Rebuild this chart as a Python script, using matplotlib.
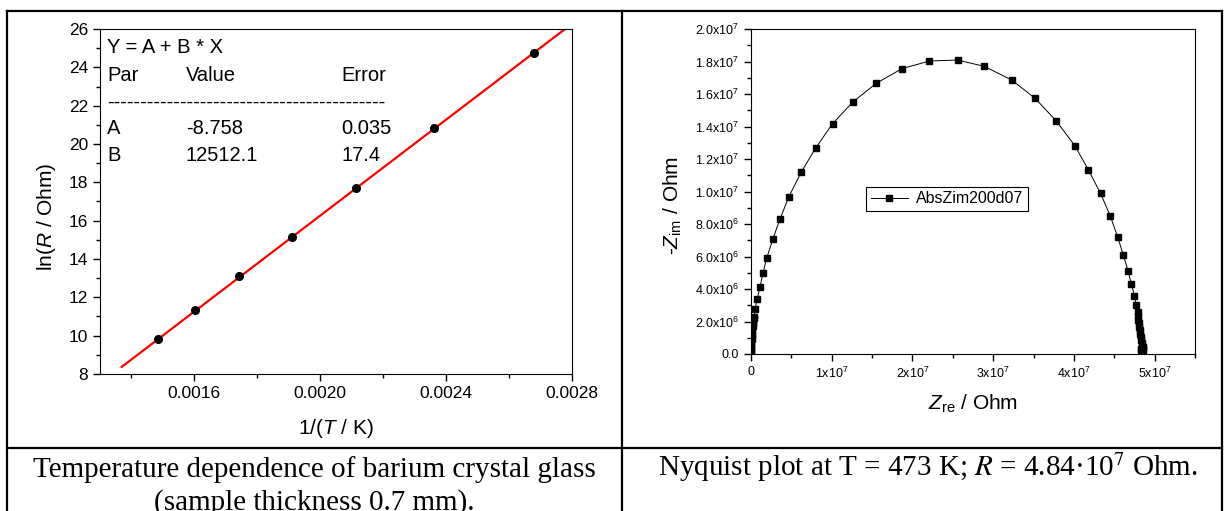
import matplotlib.pyplot as plt
from matplotlib.lines import Line2D
from matplotlib.ticker import MultipleLocator

plt.rcParams['font.family'] = ['Liberation Sans', 'DejaVu Sans']
plt.rcParams['mathtext.fontset'] = 'custom'
plt.rcParams['mathtext.rm'] = 'Liberation Sans'
plt.rcParams['mathtext.it'] = 'Liberation Sans:italic'

# left panel: ln(R) vs 1/T
inv_T = [0.001485, 0.001603, 0.001743, 0.001910, 0.002112, 0.002363, 0.002680]
ln_R = [9.82, 11.33, 13.10, 15.15, 17.69, 20.81, 24.75]
fit_A = -8.758
fit_B = 12512.1
fit_x = [0.001369, 0.002778]
fit_rows = [("A", "-8.758", "0.035"), ("B", "12512.1", "17.4")]

# right panel: Nyquist plot (Ohm)
z_re = [0.001e7, 0.002e7, 0.003e7, 0.004e7, 0.006e7, 0.008e7, 0.010e7, 0.013e7,
        0.016e7, 0.020e7, 0.025e7, 0.030e7, 0.035e7,
        0.040e7, 0.050e7, 0.077e7, 0.110e7, 0.148e7, 0.196e7, 0.270e7, 0.360e7,
        0.470e7, 0.620e7, 0.800e7, 1.010e7, 1.260e7, 1.550e7, 1.870e7, 2.210e7,
        2.560e7, 2.890e7, 3.230e7, 3.520e7, 3.780e7, 4.010e7, 4.180e7, 4.330e7,
        4.450e7, 4.540e7, 4.610e7, 4.670e7, 4.710e7, 4.750e7, 4.770e7,
        4.790e7, 4.795e7, 4.800e7, 4.806e7, 4.812e7, 4.818e7, 4.824e7, 4.830e7,
        4.836e7, 4.842e7, 4.848e7, 4.855e7, 4.860e7, 4.855e7, 4.845e7, 4.832e7,
        4.825e7]
z_im = [0.05e6, 0.20e6, 0.35e6, 0.50e6, 0.70e6, 0.90e6, 1.10e6, 1.30e6,
        1.50e6, 1.70e6, 1.90e6, 2.05e6, 2.20e6,
        2.30e6, 2.77e6, 3.39e6, 4.10e6, 4.97e6, 5.93e6, 7.06e6, 8.32e6,
        9.69e6, 11.17e6, 12.67e6, 14.17e6, 15.50e6, 16.65e6, 17.56e6, 18.03e6,
        18.09e6, 17.70e6, 16.86e6, 15.73e6, 14.35e6, 12.83e6, 11.33e6, 9.88e6,
        8.50e6, 7.23e6, 6.12e6, 5.13e6, 4.33e6, 3.59e6, 3.04e6,
        2.58e6, 2.35e6, 2.12e6, 1.90e6, 1.68e6, 1.46e6, 1.25e6, 1.05e6,
        0.86e6, 0.70e6, 0.56e6, 0.44e6, 0.34e6, 0.24e6, 0.18e6, 0.22e6,
        0.32e6]
y_ticks = [0, 2e6, 4e6, 6e6, 8e6, 1e7, 1.2e7, 1.4e7, 1.6e7, 1.8e7, 2e7]
y_tick_labels = ['0.0', '2.0x10$^6$', '4.0x10$^6$', '6.0x10$^6$', '8.0x10$^6$',
                 '1.0x10$^7$', '1.2x10$^7$', '1.4x10$^7$', '1.6x10$^7$',
                 '1.8x10$^7$', '2.0x10$^7$']
x_ticks = [0, 1e7, 2e7, 3e7, 4e7, 5e7]
x_tick_labels = ['0', '1x10$^7$', '2x10$^7$', '3x10$^7$', '4x10$^7$', '5x10$^7$']

W, H = 1225, 511
fig = plt.figure(figsize=(W / 100, H / 100), dpi=100)


def frac(x0, y0, x1, y1):
    # pixel box -> figure fraction [left, bottom, width, height]
    return [x0 / W, 1 - y1 / H, (x1 - x0) / W, (y1 - y0) / H]


# ---- left plot
ax1 = fig.add_axes(frac(100, 29, 572, 374))
ax1.plot(fit_x, [fit_A + fit_B * x for x in fit_x], color='red', lw=1.6, zorder=2)
ax1.plot(inv_T, ln_R, 'o', color='black', ms=5.5, zorder=3)
ax1.set_xlim(0.0013, 0.0028)
ax1.set_ylim(8, 26)
ax1.xaxis.set_minor_locator(MultipleLocator(0.0002))
ax1.yaxis.set_major_locator(MultipleLocator(2))
ax1.yaxis.set_minor_locator(MultipleLocator(1))
ax1.set_xticks([0.0016, 0.0020, 0.0024, 0.0028])
ax1.set_xticklabels(['0.0016', '0.0020', '0.0024', '0.0028'])
ax1.tick_params(which='major', direction='out', length=5, width=1, labelsize=12.5)
ax1.tick_params(which='minor', direction='out', length=3, width=1)
ax1.set_xlabel('1/($T$ / K)', fontsize=15)
ax1.set_ylabel('ln($R$ / Ohm)', fontsize=15)
ax1.xaxis.set_label_coords(0.5, -0.125)
ax1.yaxis.set_label_coords(-0.09, 0.455)

tkw = dict(transform=ax1.transAxes, fontsize=14.5, va='center')
ax1.text(0.015, 0.945, 'Y = A + B * X', **tkw)
ax1.text(0.015, 0.864, 'Par', **tkw)
ax1.text(0.182, 0.864, 'Value', **tkw)
ax1.text(0.511, 0.864, 'Error', **tkw)
ax1.text(0.015, 0.787, '-' * 42, **tkw)
for i, (p, v, e) in enumerate(fit_rows):
    yy = 0.712 - i * 0.078
    ax1.text(0.015, yy, p, **tkw)
    ax1.text(0.182, yy, v, **tkw)
    ax1.text(0.511, yy, e, **tkw)

# ---- right plot
ax2 = fig.add_axes(frac(751, 29, 1195, 354))
ax2.plot(z_re, z_im, '-', color='black', lw=0.7, marker='s', ms=4.3,
         mfc='black', mec='black', label='AbsZim200d07')
ax2.set_xlim(0, 5.5e7)
ax2.set_ylim(0, 2e7)
ax2.set_xticks(x_ticks)
ax2.set_xticklabels(x_tick_labels)
ax2.set_yticks(y_ticks)
ax2.set_yticklabels(y_tick_labels)
ax2.xaxis.set_minor_locator(MultipleLocator(0.5e7))
ax2.yaxis.set_minor_locator(MultipleLocator(1e6))
ax2.tick_params(which='major', direction='out', length=5, width=1, labelsize=9)
ax2.tick_params(which='minor', direction='out', length=3, width=1)
ax2.set_xlabel('$Z_{\\rm re}$ / Ohm', fontsize=15)
ax2.set_ylabel('-$Z_{\\rm im}$ / Ohm', fontsize=15)
ax2.xaxis.set_label_coords(0.5, -0.12)
ax2.yaxis.set_label_coords(-0.15, 0.458)
leg = ax2.legend(loc='center left', bbox_to_anchor=(0.259, 0.477), fontsize=11.5,
                 frameon=True, fancybox=False, edgecolor='black', framealpha=1,
                 handlelength=2.3, handletextpad=0.55, borderpad=0.3, borderaxespad=0)
leg.get_frame().set_linewidth(0.8)

# ---- table grid
lw = 1.6
for (x0, y0, x1, y1) in [(7, 11, 1222, 11), (7, 448, 1222, 448), (7, 11, 7, 511),
                         (622, 11, 622, 511), (1222, 11, 1222, 511)]:
    fig.add_artist(Line2D([x0 / W, x1 / W], [1 - y0 / H, 1 - y1 / H],
                          transform=fig.transFigure, color='black', lw=lw))

# ---- captions
cap = dict(fontsize=21, ha='center', va='baseline', family=['Liberation Serif', 'DejaVu Serif'])
fig.text(314.5 / W, 1 - 477 / H, 'Temperature dependence of barium crystal glass', **cap)
fig.text(314.5 / W, 1 - 510 / H, '(sample thickness 0.7 mm).', **cap)
fig.text(928 / W, 1 - 476 / H, 'Nyquist plot at T = 473 K; $R$ = 4.84\u00b710$^7$ Ohm.',
         math_fontfamily='stix', **cap)

fig.savefig('out.png', dpi=100)
